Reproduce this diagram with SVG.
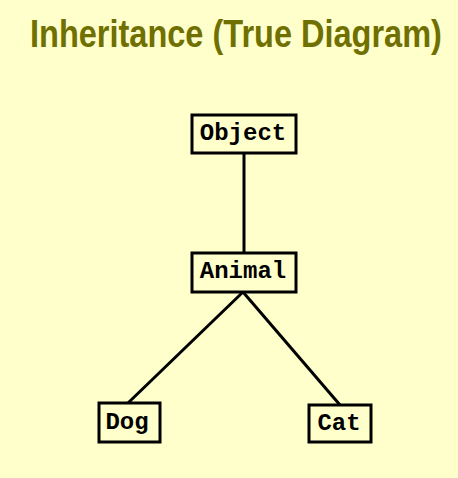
<svg xmlns="http://www.w3.org/2000/svg" width="458" height="478" viewBox="0 0 458 478">
<style>
.bg{fill:#FFFFCC}
.title{font-family:"Liberation Sans",Arial,sans-serif;font-weight:bold;font-size:39px;fill:#707000}
.box{fill:#FFFFCC;stroke:#000;stroke-width:3}
.lbl{font-family:"Liberation Mono","Courier New",monospace;font-weight:bold;font-size:24px;fill:#000;text-anchor:middle}
.conn{stroke:#000;stroke-width:3;fill:none}
</style>
<rect class="bg" x="0" y="0" width="458" height="478"/>
<text class="title" transform="scale(0.834,1)" x="36" y="47">Inheritance (True Diagram)</text>
<g id="connectors">
<line class="conn" x1="244" y1="153" x2="244" y2="253"/>
<line class="conn" x1="243" y1="292" x2="128" y2="403"/>
<line class="conn" x1="243" y1="292" x2="340" y2="405"/>
</g>
<g id="object">
<rect class="box" x="192" y="115" width="104" height="38"/>
<text class="lbl" x="243" y="140">Object</text>
</g>
<g id="animal">
<rect class="box" x="192" y="253" width="104" height="39"/>
<text class="lbl" x="243" y="278">Animal</text>
</g>
<g id="dog">
<rect class="box" x="99" y="403" width="61" height="39"/>
<text class="lbl" x="127" y="429">Dog</text>
</g>
<g id="cat">
<rect class="box" x="309" y="405" width="62" height="37"/>
<text class="lbl" x="339" y="430">Cat</text>
</g>
</svg>
